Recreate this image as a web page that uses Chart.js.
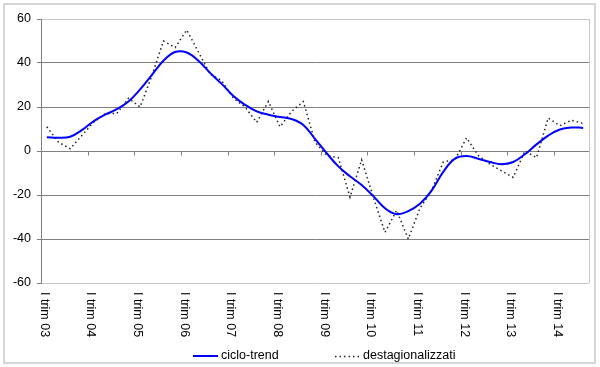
<!DOCTYPE html>
<html><head><meta charset="utf-8">
<script src="https://cdn.jsdelivr.net/npm/chart.js@4/dist/chart.umd.min.js"></script>
<style>html,body{margin:0;padding:0;background:#fff}#wrap{width:600px;height:367px;position:relative}</style>
</head><body><div id="wrap"><canvas id="c" width="600" height="367"></canvas></div>
<script>
const categories = [
  "I trim 03","II trim 03","III trim 03","IV trim 03",
  "I trim 04","II trim 04","III trim 04","IV trim 04",
  "I trim 05","II trim 05","III trim 05","IV trim 05",
  "I trim 06","II trim 06","III trim 06","IV trim 06",
  "I trim 07","II trim 07","III trim 07","IV trim 07",
  "I trim 08","II trim 08","III trim 08","IV trim 08",
  "I trim 09","II trim 09","III trim 09","IV trim 09",
  "I trim 10","II trim 10","III trim 10","IV trim 10",
  "I trim 11","II trim 11","III trim 11","IV trim 11",
  "I trim 12","II trim 12","III trim 12","IV trim 12",
  "I trim 13","II trim 13","III trim 13","IV trim 13",
  "I trim 14","II trim 14","III trim 14"
];
const tickLabels = ["I trim 03","I trim 04","I trim 05","I trim 06","I trim 07","I trim 08","I trim 09","I trim 10","I trim 11","I trim 12","I trim 13","I trim 14"];
const cicloTrend = [6.2, 6, 6.5, 9.5, 13.5, 16.5, 19, 22.5, 28, 34.5, 41, 45, 44.8, 41, 35.5, 30.5, 25, 21, 18, 16.5, 15.5, 14.5, 11.8, 5.5, -1, -7, -11.5, -15.5, -20.5, -26, -28.7, -27.3, -24, -18, -9.5, -3.5, -2.3, -3.5, -5, -6, -5, -1.5, 3, 7, 9.8, 10.7, 10.5];
const destagionalizzati = [11, 4, 1, 7, 13, 17, 17, 24, 20, 34, 50, 47, 55, 45, 35, 32, 24, 20, 13, 22.5, 11, 18, 22.5, 4, -2, -3, -21, -4, -21, -37, -27, -40, -26, -18, -5, -4, 6, -2, -6, -9, -12, 0, -3, 15, 11.5, 14, 12.5];
const yTicks = [-60, -40, -20, 0, 20, 40, 60];
const seriesNames = ["ciclo-trend", "destagionalizzati"];

const FONT = '"Liberation Sans", Arial, sans-serif';
const DOT = [1.5, 3];

const deco = {
  id: 'deco',
  beforeDatasetsDraw(chart) {
    const {ctx, chartArea: a, scales: {x, y}} = chart;
    ctx.save();
    ctx.lineWidth = 1;
    ctx.strokeStyle = '#c8c8c8';
    const rx = Math.round(a.right) + 0.5;
    ctx.beginPath(); ctx.moveTo(rx, a.top); ctx.lineTo(rx, a.bottom); ctx.stroke();
    const y0 = Math.round(y.getPixelForValue(0)) + 0.5;
    const half = (x.getPixelForValue(1) - x.getPixelForValue(0)) / 2;
    ctx.strokeStyle = '#808080';
    ctx.beginPath();
    for (let i = 4; i < categories.length; i += 4) {
      const px = Math.round(x.getPixelForValue(i) - half) + 0.5;
      ctx.moveTo(px, y0); ctx.lineTo(px, y0 + 4);
    }
    ctx.stroke();
    ctx.restore();
  },
  afterDraw(chart) {
    const {ctx, scales: {x}} = chart;
    ctx.save();
    ctx.fillStyle = '#000';
    ctx.font = '12.5px ' + FONT;
    categories.forEach((c, i) => {
      if (!tickLabels.includes(c)) return;
      ctx.save();
      ctx.translate(x.getPixelForValue(i) - 6, 292);
      ctx.rotate(Math.PI / 2);
      ctx.textAlign = 'left';
      ctx.textBaseline = 'alphabetic';
      ctx.fillText(c, 0, 0);
      ctx.restore();
    });
    // legend
    const ly = 356;
    ctx.lineWidth = 2; ctx.strokeStyle = '#0000ff'; ctx.setLineDash([]);
    ctx.beginPath(); ctx.moveTo(193, ly); ctx.lineTo(218, ly); ctx.stroke();
    ctx.lineWidth = 1.5; ctx.strokeStyle = '#222'; ctx.setLineDash(DOT);
    ctx.beginPath(); ctx.moveTo(335, ly + 0.5); ctx.lineTo(360, ly + 0.5); ctx.stroke();
    ctx.setLineDash([]);
    ctx.textAlign = 'left'; ctx.textBaseline = 'middle';
    ctx.fillText(seriesNames[0], 221, ly);
    ctx.fillText(seriesNames[1], 363, ly);
    // outer border
    ctx.lineWidth = 2; ctx.strokeStyle = '#d6d6d6';
    ctx.strokeRect(4, 4, 591, 359);
    ctx.restore();
  }
};

new Chart(document.getElementById('c').getContext('2d'), {
  type: 'line',
  data: {
    labels: categories,
    datasets: [
      {label: seriesNames[0], data: cicloTrend, borderColor: '#0000ff', borderWidth: 2, pointRadius: 0, tension: 0.4, fill: false},
      {label: seriesNames[1], data: destagionalizzati, borderColor: '#222222', borderWidth: 1.5, borderDash: DOT, pointRadius: 0, tension: 0, fill: false}
    ]
  },
  options: {
    responsive: false, animation: false, devicePixelRatio: 1,
    layout: {padding: {top: 19, right: 11, left: 0, bottom: 0}},
    plugins: {legend: {display: false}, tooltip: {enabled: false}},
    scales: {
      x: {type: 'category', offset: true, grid: {display: false}, border: {display: false}, ticks: {display: false},
          afterFit(s) { s.height = 84; }},
      y: {min: -60, max: 60,
          afterBuildTicks(s) { s.ticks = yTicks.map(v => ({value: v})); },
          ticks: {font: {family: FONT, size: 12.5}, color: '#000', padding: 6},
          grid: {color(c) { const v = c.tick && c.tick.value; return (v === 60 || v === -60) ? '#c8c8c8' : '#808080'; },
                 tickColor: '#808080', tickLength: 4, lineWidth: 1},
          border: {color: '#808080', width: 1},
          afterFit(s) { s.width = 41; }}
    }
  },
  plugins: [deco]
});
</script></body></html>
